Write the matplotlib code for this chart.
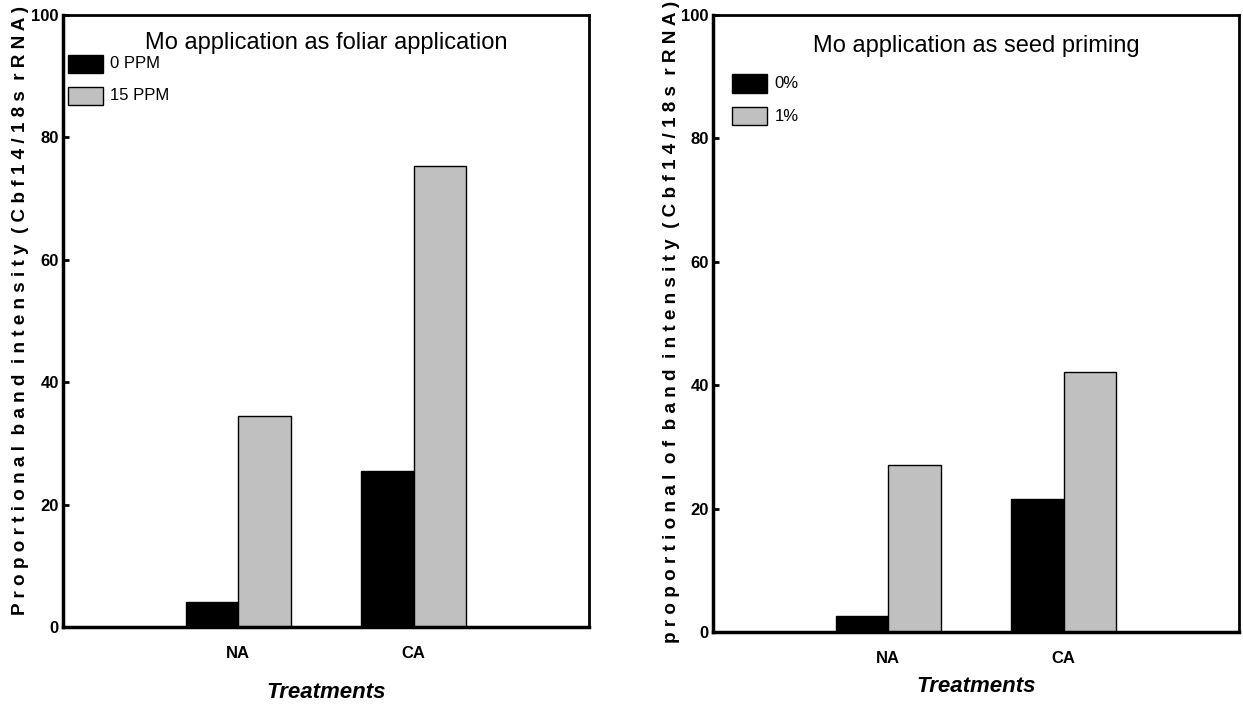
import matplotlib.pyplot as plt
import numpy as np

# values
treatments = ["NA", "CA"]
foliar_0ppm = [4.0, 25.5]
foliar_15ppm = [34.5, 75.4]
priming_0pct = [2.6, 21.6]
priming_1pct = [27.0, 42.1]

NARROW = ["Liberation Sans Narrow", "Liberation Sans"]

fig = plt.figure(figsize=(12.43, 7.09), dpi=100)
ax1 = fig.add_axes([0.0507, 0.1157, 0.4232, 0.8631])
ax2 = fig.add_axes([0.5736, 0.1086, 0.4232, 0.8702])

x = np.arange(1, len(treatments) + 1)
width = 0.3


def draw_panel(ax, low, high, labels, title, ylabel, title_y, leg_y, leg_x,
               ylab_pos, xlab_pad):
    ax.bar(x - width / 2, low, width, color="black", edgecolor="black", linewidth=1)
    ax.bar(x + width / 2, high, width, color="#c0c0c0", edgecolor="black", linewidth=1)
    ax.set_xlim(0, 3)
    ax.set_ylim(0, 100)
    ax.set_yticks([0, 20, 40, 60, 80, 100])
    ax.set_xticks(x)
    ax.set_xticklabels(treatments, fontfamily=NARROW, fontweight="bold", fontsize=12)
    ax.tick_params(axis="x", length=0, pad=14)
    ax.tick_params(axis="y", direction="in", length=4, width=2, pad=3)
    for lab in ax.get_yticklabels():
        lab.set_fontfamily(NARROW)
        lab.set_fontweight("bold")
        lab.set_fontsize(12)
    for side in ["top", "right"]:
        ax.spines[side].set_linewidth(2)
    for side in ["bottom", "left"]:
        ax.spines[side].set_linewidth(2.5)

    ax.text(0.5, title_y, title, transform=ax.transAxes, ha="center", va="center",
            fontfamily=NARROW, fontsize=17)

    # hand-made legend boxes
    for i, (col, lab) in enumerate(zip(["black", "#c0c0c0"], labels)):
        yy = leg_y[i]
        ax.add_patch(plt.Rectangle((leg_x, yy - 1.5), 0.2, 3, color=col, ec="black",
                                   lw=1, clip_on=False))
        ax.text(leg_x + 0.24, yy, lab, va="center", ha="left",
                fontfamily=NARROW, fontsize=12)

    ax.set_ylabel(ylabel, fontfamily=NARROW, fontweight="bold", fontsize=13.6)
    ax.yaxis.set_label_coords(*ylab_pos)
    ax.set_xlabel("Treatments", fontfamily=NARROW, fontweight="bold",
                  fontstyle="italic", fontsize=16, labelpad=xlab_pad)


draw_panel(ax1, foliar_0ppm, foliar_15ppm, ["0 PPM", "15 PPM"],
           "Mo application as foliar application",
           "P r o p o r t i o n a l  b a n d  i n t e n s i t y  ( C b f 1 4 / 1 8 s  r R N A )",
           0.955, [92.0, 86.8], 0.03, (-0.065, 0.518), 15)
draw_panel(ax2, priming_0pct, priming_1pct, ["0%", "1%"],
           "Mo application as seed priming",
           "p r o p o r t i o n a l  o f  b a n d  i n t e n s i t y  ( C b f 1 4 / 1 8 s  r R N A )",
           0.95, [88.9, 83.6], 0.11, (-0.063, 0.503), 7)

fig.savefig("out.png", dpi=100)
